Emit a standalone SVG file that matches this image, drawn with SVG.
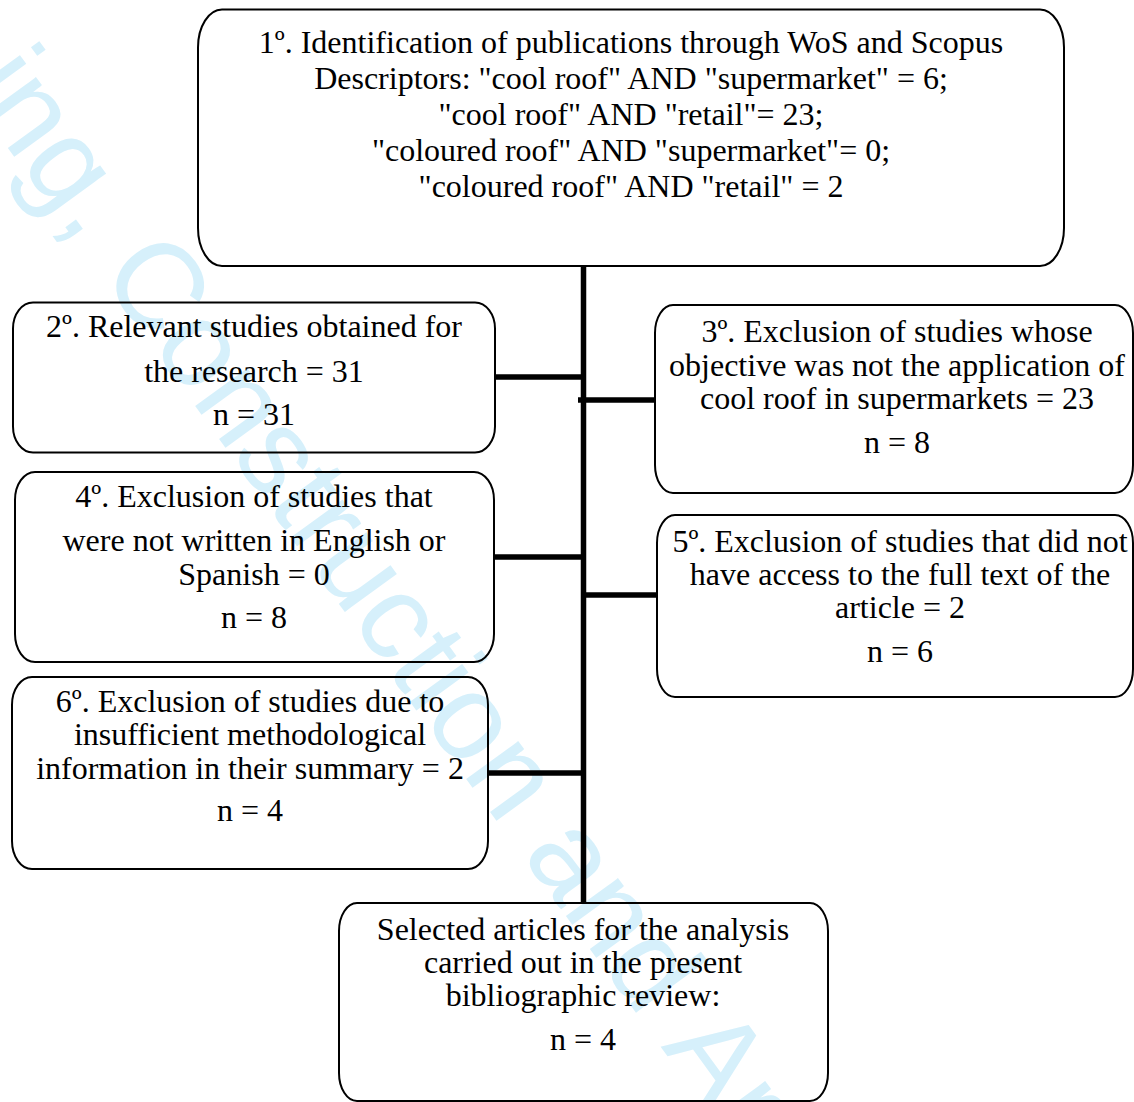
<svg xmlns="http://www.w3.org/2000/svg" width="1134" height="1102" viewBox="0 0 1134 1102">
<style>
.bg{fill:#ffffff}
.wm{font-family:"Liberation Sans",Arial,sans-serif;font-size:122px;fill:#d6f0fb}
.box{fill:none;stroke:#000;stroke-width:2}
.t{font-family:"Liberation Serif","Times New Roman",serif;font-size:32px;fill:#000;text-anchor:middle}
.conn{stroke:#000;stroke-width:5.5;fill:none;stroke-linecap:butt}
</style>
<rect class="bg" x="0" y="0" width="1134" height="1102"/>
<g id="watermark">
<text class="wm" transform="translate(-37,86.4) rotate(54)">ing,</text>
<text class="wm" transform="translate(98.5,273) rotate(54)">Construction</text>
<text class="wm" transform="translate(521,854.4) rotate(54)">and</text>
<text class="wm" transform="translate(660.5,1046.4) rotate(54)">Ar</text>
</g>
<g id="connectors">
<path class="conn" d="M583.5 266 V903"/>
<path class="conn" d="M495 377 H583.5"/>
<path class="conn" d="M578 400 H655"/>
<path class="conn" d="M494 557 H586"/>
<path class="conn" d="M583 595 H657"/>
<path class="conn" d="M488 773 H583.5"/>
</g>
<g id="node1">
<rect class="box" x="198" y="9.5" width="866" height="256.5" rx="24" ry="38"/>
<text class="t" x="631" y="53">1º. Identification of publications through WoS and Scopus</text>
<text class="t" x="631" y="89">Descriptors: "cool roof" AND "supermarket" = 6;</text>
<text class="t" x="631" y="125">"cool roof" AND "retail"= 23;</text>
<text class="t" x="631" y="161">"coloured roof" AND "supermarket"= 0;</text>
<text class="t" x="631" y="197">"coloured roof" AND "retail" = 2</text>
</g>
<g id="node2">
<rect class="box" x="13" y="302.5" width="482" height="150" rx="20" ry="26"/>
<text class="t" x="254" y="337">2º. Relevant studies obtained for</text>
<text class="t" x="254" y="382">the research = 31</text>
<text class="t" x="254" y="425">n = 31</text>
</g>
<g id="node3">
<rect class="box" x="655" y="305" width="478" height="188" rx="18" ry="28"/>
<text class="t" x="897" y="342">3º. Exclusion of studies whose</text>
<text class="t" x="897" y="376">objective was not the application of</text>
<text class="t" x="897" y="409">cool roof in supermarkets = 23</text>
<text class="t" x="897" y="453">n = 8</text>
</g>
<g id="node4">
<rect class="box" x="15" y="472" width="479" height="190" rx="20" ry="28"/>
<text class="t" x="254" y="507">4º. Exclusion of studies that</text>
<text class="t" x="254" y="551">were not written in English or</text>
<text class="t" x="254" y="585">Spanish = 0</text>
<text class="t" x="254" y="628">n = 8</text>
</g>
<g id="node5">
<rect class="box" x="657" y="515" width="476" height="182" rx="18" ry="28"/>
<text class="t" x="900" y="552">5º. Exclusion of studies that did not</text>
<text class="t" x="900" y="585">have access to the full text of the</text>
<text class="t" x="900" y="618">article = 2</text>
<text class="t" x="900" y="662">n = 6</text>
</g>
<g id="node6">
<rect class="box" x="12" y="677" width="476" height="192" rx="20" ry="28"/>
<text class="t" x="250" y="712">6º. Exclusion of studies due to</text>
<text class="t" x="250" y="745">insufficient methodological</text>
<text class="t" x="250" y="779">information in their summary = 2</text>
<text class="t" x="250" y="821">n = 4</text>
</g>
<g id="node7">
<rect class="box" x="339" y="903" width="489" height="198" rx="18" ry="28"/>
<text class="t" x="583" y="940">Selected articles for the analysis</text>
<text class="t" x="583" y="973">carried out in the present</text>
<text class="t" x="583" y="1006">bibliographic review:</text>
<text class="t" x="583" y="1050">n = 4</text>
</g>
</svg>
